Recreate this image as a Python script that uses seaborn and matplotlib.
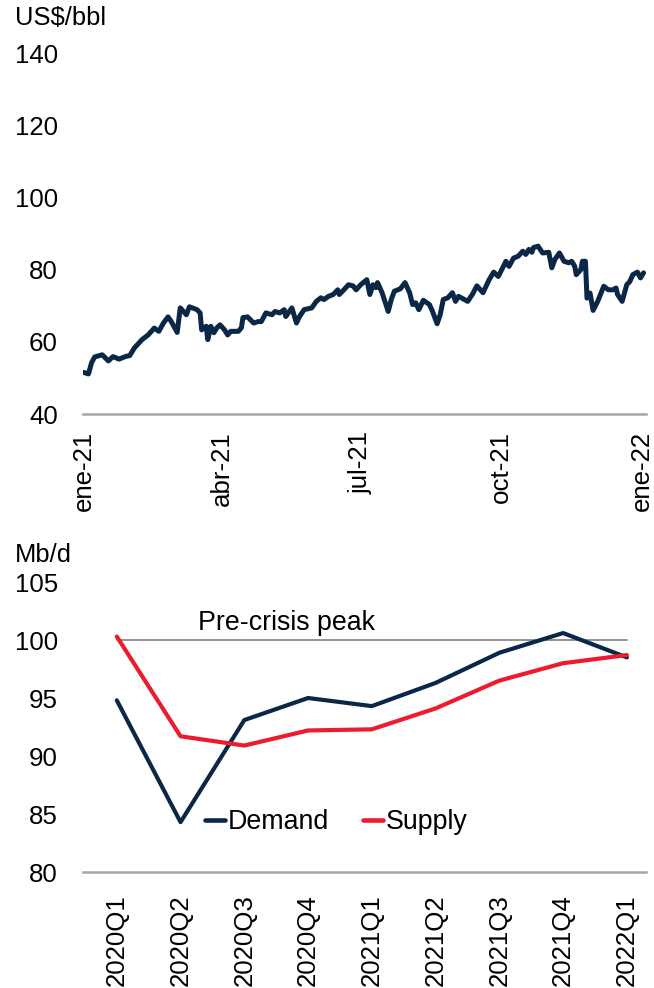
import matplotlib
matplotlib.use("Agg")
import matplotlib.pyplot as plt
import seaborn as sns
import pandas as pd

# ---------------- data ----------------
price_dates = [
    "2021-01-01", "2021-01-04", "2021-01-06", "2021-01-08", "2021-01-13", "2021-01-17",
    "2021-01-20", "2021-01-24", "2021-01-28", "2021-01-31", "2021-02-03", "2021-02-08",
    "2021-02-12", "2021-02-16", "2021-02-19", "2021-02-22", "2021-02-25", "2021-02-27",
    "2021-03-03", "2021-03-05", "2021-03-09", "2021-03-11", "2021-03-16", "2021-03-18",
    "2021-03-19", "2021-03-22", "2021-03-23", "2021-03-25", "2021-03-27", "2021-03-29",
    "2021-03-31", "2021-04-03", "2021-04-05", "2021-04-07", "2021-04-12", "2021-04-14",
    "2021-04-15", "2021-04-18", "2021-04-22", "2021-04-25", "2021-04-27", "2021-04-30",
    "2021-05-04", "2021-05-06", "2021-05-09", "2021-05-12", "2021-05-13", "2021-05-17",
    "2021-05-18", "2021-05-20", "2021-05-22", "2021-05-25", "2021-05-30", "2021-06-02",
    "2021-06-05", "2021-06-07", "2021-06-10", "2021-06-13", "2021-06-16", "2021-06-17",
    "2021-06-20", "2021-06-23", "2021-06-26", "2021-06-28", "2021-07-01", "2021-07-05",
    "2021-07-07", "2021-07-09", "2021-07-11", "2021-07-12", "2021-07-15", "2021-07-19",
    "2021-07-21", "2021-07-23", "2021-07-27", "2021-07-30", "2021-08-02", "2021-08-04",
    "2021-08-06", "2021-08-08", "2021-08-11", "2021-08-15", "2021-08-17", "2021-08-20",
    "2021-08-22", "2021-08-24", "2021-08-27", "2021-08-30", "2021-09-01", "2021-09-03",
    "2021-09-09", "2021-09-12", "2021-09-15", "2021-09-19", "2021-09-23", "2021-09-26",
    "2021-09-29", "2021-10-04", "2021-10-06", "2021-10-09", "2021-10-12", "2021-10-15",
    "2021-10-17", "2021-10-19", "2021-10-21", "2021-10-22", "2021-10-25", "2021-10-28",
    "2021-11-01", "2021-11-03", "2021-11-05", "2021-11-08", "2021-11-11", "2021-11-14",
    "2021-11-16", "2021-11-18", "2021-11-19", "2021-11-22", "2021-11-23", "2021-11-25",
    "2021-11-26", "2021-11-28", "2021-11-30", "2021-12-03", "2021-12-07", "2021-12-10",
    "2021-12-13", "2021-12-15", "2021-12-16", "2021-12-19", "2021-12-22", "2021-12-24",
    "2021-12-26", "2021-12-29", "2021-12-31", "2022-01-02",
]
price_values = [
    51.5, 51.1, 54.2, 55.8, 56.4, 54.7,
    55.9, 55.2, 55.9, 56.2, 58.3, 60.6,
    61.9, 63.8, 62.9, 65.2, 66.9, 65.7,
    62.6, 69.4, 67.5, 69.7, 68.9, 68.0,
    63.3, 64.3, 60.6, 64.3, 62.5, 63.9,
    64.7, 63.3, 61.9, 62.9, 62.9, 63.9,
    66.7, 66.9, 65.2, 65.6, 65.6, 68.0,
    67.5, 68.4, 68.0, 68.9, 67.0, 69.4,
    68.0, 65.2, 67.0, 68.9, 69.4, 71.2,
    72.2, 71.7, 72.6, 73.1, 74.4, 73.1,
    74.4, 75.8, 75.5, 74.4, 75.8, 77.2,
    73.1, 75.8, 75.0, 76.4, 73.6, 68.4,
    71.7, 74.0, 74.7, 76.4, 73.6, 70.3,
    70.8, 68.9, 71.5, 70.3, 68.4, 65.0,
    67.5, 71.7, 72.2, 73.6, 71.2, 72.6,
    71.2, 73.1, 75.5, 73.6, 77.2, 79.3,
    78.1, 82.3, 80.9, 83.2, 83.7, 85.1,
    84.2, 85.6, 84.8, 86.1, 86.5, 84.6,
    84.8, 80.5, 82.8, 84.6, 82.3, 81.9,
    82.3, 80.9, 78.6, 80.0, 82.3, 82.3,
    72.1, 73.5, 68.7, 71.2, 75.4, 74.4,
    74.4, 74.9, 73.1, 71.2, 75.8, 76.7,
    78.6, 79.3, 77.7, 79.1,
]
price_ticks = ["2021-01-01", "2021-04-01", "2021-07-01", "2021-10-01", "2022-01-01"]
price_tick_labels = ["ene-21", "abr-21", "jul-21", "oct-21", "ene-22"]
price_yticks = [40, 60, 80, 100, 120, 140]

quarters = ["2020Q1", "2020Q2", "2020Q3", "2020Q4", "2021Q1",
            "2021Q2", "2021Q3", "2021Q4", "2022Q1"]
demand = [94.8, 84.3, 93.1, 95.0, 94.3, 96.3, 98.9, 100.6, 98.5]
supply = [100.3, 91.7, 90.9, 92.2, 92.3, 94.1, 96.5, 98.0, 98.7]
pre_crisis_peak = 100.0
balance_yticks = [80, 85, 90, 95, 100, 105]

# ---------------- style ----------------
sns.set_style("white")
plt.rcParams["font.family"] = ["Liberation Sans", "DejaVu Sans"]
plt.rcParams["text.color"] = "black"
FS_TICK = 18.6
FS_TEXT = 19.3
FS_UNIT = 18.4
NAVY = "#0b2748"
RED = "#ec1c2e"
AXIS_GRAY = "#a6a6a6"
PX = 72 / 100  # points per pixel at dpi 100

fig = plt.figure(figsize=(6.54, 9.88), dpi=100)

# ---------------- top chart ----------------
ax1 = fig.add_axes([83 / 654, 1 - 414 / 988, (646 - 83) / 654, (414 - 53) / 988])
df_p = pd.DataFrame({"date": pd.to_datetime(price_dates), "price": price_values})
sns.lineplot(data=df_p, x="date", y="price", ax=ax1, color=NAVY, linewidth=3.6)
d0 = pd.Timestamp("2021-01-01")
ax1.set_xlim(d0 - pd.Timedelta(days=0.6), d0 + pd.Timedelta(days=367.6))
ax1.set_ylim(40, 140)
ax1.set_xticks(pd.to_datetime(price_ticks))
ax1.set_xticklabels(price_tick_labels, rotation=90)
ax1.set_yticks(price_yticks)
ax1.set_yticklabels([str(v) for v in price_yticks])
ax1.set_xlabel("")
ax1.set_ylabel("")
for s in ["top", "right", "left"]:
    ax1.spines[s].set_visible(False)
ax1.spines["bottom"].set_color(AXIS_GRAY)
ax1.spines["bottom"].set_linewidth(1.8)
ax1.tick_params(axis="both", length=0, labelsize=FS_TICK, colors="black")
ax1.tick_params(axis="y", pad=25 * PX)
ax1.tick_params(axis="x", pad=17 * PX)
fig.text(15 / 654, 1 - 18 / 988, "US$/bbl", fontsize=FS_UNIT, va="center", ha="left",
         color="black")

# ---------------- bottom chart ----------------
ax2 = fig.add_axes([83 / 654, 1 - 872 / 988, (646 - 83) / 654, (872 - 582) / 988])
df_b = pd.DataFrame({
    "quarter": quarters * 2,
    "value": demand + supply,
    "series": ["Demand"] * len(quarters) + ["Supply"] * len(quarters),
})
df_b["pos"] = list(range(len(quarters))) * 2
ax2.plot([0, len(quarters) - 1], [pre_crisis_peak, pre_crisis_peak],
         color="#7f7f7f", linewidth=1.2, zorder=1)
sns.lineplot(data=df_b, x="pos", y="value", hue="series",
             palette={"Demand": NAVY, "Supply": RED}, linewidth=3.0, ax=ax2, zorder=3)
ax2.set_xlim(-0.53, len(quarters) - 1 + 0.3)
ax2.set_ylim(80, 105)
ax2.set_xticks(range(len(quarters)))
ax2.set_xticklabels(quarters, rotation=90)
ax2.set_yticks(balance_yticks)
ax2.set_yticklabels([str(v) for v in balance_yticks])
ax2.set_xlabel("")
ax2.set_ylabel("")
for s in ["top", "right", "left"]:
    ax2.spines[s].set_visible(False)
ax2.spines["bottom"].set_color(AXIS_GRAY)
ax2.spines["bottom"].set_linewidth(1.8)
ax2.tick_params(axis="both", length=0, labelsize=FS_TICK, colors="black")
ax2.tick_params(axis="y", pad=25 * PX)
ax2.tick_params(axis="x", pad=22 * PX)
ax2.text(1.27, pre_crisis_peak + 0.35, "Pre-crisis peak", fontsize=FS_TEXT,
         ha="left", va="bottom", color="black")
leg = ax2.legend(loc="center", bbox_to_anchor=((336 - 83) / 563, (872 - 822) / 290),
                 ncol=2, frameon=False, fontsize=FS_TEXT, handlelength=0.75,
                 handletextpad=0.1, columnspacing=1.25, borderpad=0)
for line in leg.get_lines():
    line.set_linewidth(3.3)
for t in leg.get_texts():
    t.set_color("black")
fig.text(15 / 654, 1 - 555 / 988, "Mb/d", fontsize=FS_UNIT, va="center", ha="left",
         color="black")

fig.savefig("out.png", dpi=100, facecolor="white")
